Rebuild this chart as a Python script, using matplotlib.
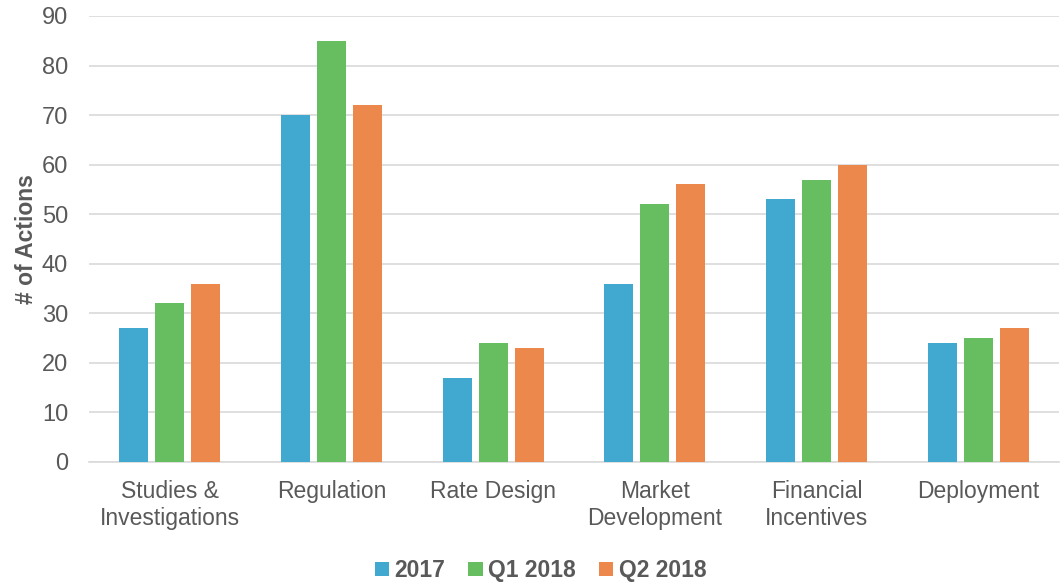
import matplotlib
matplotlib.use("Agg")
import matplotlib.pyplot as plt
import numpy as np

categories = ["Studies &\nInvestigations", "Regulation", "Rate Design", "Market\nDevelopment", "Financial\nIncentives", "Deployment"]
series_names = ["2017", "Q1 2018", "Q2 2018"]
v2017 = [27, 70, 17, 36, 53, 24]
vq1 = [32, 85, 24, 52, 57, 25]
vq2 = [36, 72, 23, 56, 60, 27]
colors = ["#41A9CF", "#66BE60", "#EC884B"]
yticks = [0, 10, 20, 30, 40, 50, 60, 70, 80, 90]

plt.rcParams['font.family'] = ['Liberation Sans', 'DejaVu Sans']
fig = plt.figure(figsize=(10.6, 5.82), dpi=100)
ax = fig.add_axes([89/1060, 1-462/582, 970/1060, (462-16)/582])

x = np.arange(len(categories))
w = 0.18
step = 0.222
for i, (vals, name, c) in enumerate(zip([v2017, vq1, vq2], series_names, colors)):
    ax.bar(x + (i-1)*step, vals, width=w, color=c, label=name, zorder=3)

ax.set_xlim(-0.5, len(categories)-0.5)
ax.set_ylim(0, 90)
ax.set_yticks(yticks)
ax.grid(axis='y', color='#D9D9D9', linewidth=1.2, zorder=0)
for s in ['top', 'right', 'left']:
    ax.spines[s].set_visible(False)
ax.spines['bottom'].set_color('#D9D9D9')
ax.spines['bottom'].set_linewidth(1.2)
ax.set_xticks(x)
ax.set_xticklabels(categories, fontsize=16.5, color='#595959', linespacing=1.2)
ax.tick_params(axis='x', length=0, pad=13)
ax.tick_params(axis='y', length=0, labelsize=17, labelcolor='#595959', pad=15)
ax.set_ylabel("# of Actions", fontsize=16.5, fontweight='bold', color='#595959', labelpad=3)

leg = fig.legend(loc='lower center', bbox_to_anchor=(0.51, -0.006), ncol=3, frameon=False,
                 prop={'size': 16.5, 'weight': 'bold'}, handlelength=0.62, handleheight=0.62,
                 handletextpad=0.25, columnspacing=1.0, borderaxespad=0.0, borderpad=0.15)
for t in leg.get_texts():
    t.set_color('#595959')

fig.savefig("out.png", dpi=100)
